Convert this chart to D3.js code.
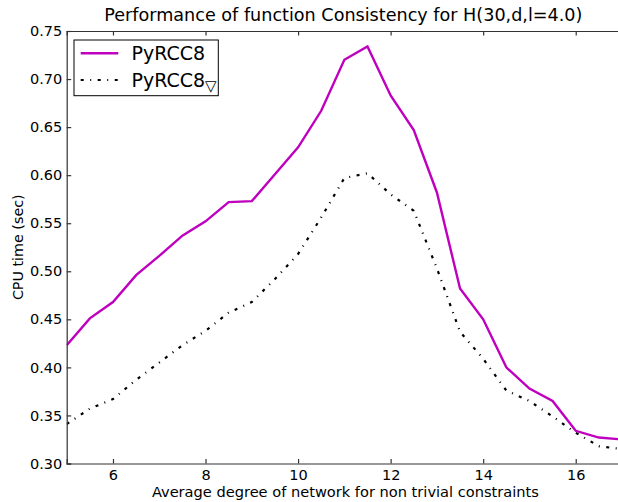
<!DOCTYPE html>
<html><head><meta charset="utf-8">
<script src="https://cdn.jsdelivr.net/npm/d3@7"></script>
<style>body{margin:0;background:#fff}svg{display:block}text{font-family:"DejaVu Sans",sans-serif;fill:#000}</style>
</head><body>
<svg id="c" width="618" height="502"></svg>
<script>
const degrees = [5,5.5,6,6.5,7,7.5,8,8.5,9,9.5,10,10.5,11,11.5,12,12.5,13,13.5,14,14.5,15,15.5,16,16.5,17];
const pyrcc8 = [0.423,0.451,0.468,0.496,0.516,0.537,0.552,0.572,0.573,0.601,0.629,0.667,0.720,0.734,0.683,0.647,0.582,0.482,0.450,0.400,0.378,0.365,0.334,0.327,0.325];
const pyrcc8Tri = [0.341,0.357,0.367,0.387,0.405,0.423,0.438,0.457,0.468,0.492,0.518,0.556,0.597,0.602,0.580,0.563,0.503,0.437,0.409,0.376,0.365,0.349,0.332,0.318,0.315];
const xTicks = [6,8,10,12,14,16];
const yTicks = [0.30,0.35,0.40,0.45,0.50,0.55,0.60,0.65,0.70,0.75];
const titleText = "Performance of function Consistency for H(30,d,l=4.0)";
const xLabel = "Average degree of network for non trivial constraints";
const yLabel = "CPU time (sec)";

const L=66.7, R=622, T=31, B=463.5;
const svg=d3.select("#c");
const x=d3.scaleLinear().domain([5,17]).range([L,R]);
const y=d3.scaleLinear().domain([0.30,0.75]).range([B,T]);

svg.append("defs").append("clipPath").attr("id","pc").append("rect")
 .attr("x",L).attr("y",T).attr("width",R-L).attr("height",B-T);

const line=d3.line().x((d,i)=>x(degrees[i])).y(d=>y(d));
const g=svg.append("g").attr("clip-path","url(#pc)");
g.append("path").datum(pyrcc8).attr("d",line).attr("fill","none")
 .attr("stroke","#bf00bf").attr("stroke-width",2.4).attr("stroke-linejoin","miter");
g.append("path").datum(pyrcc8Tri).attr("d",line).attr("fill","none")
 .attr("stroke","#000").attr("stroke-width",2.2).attr("stroke-dasharray","3,6.5,1,6.5");

// axes
const axCol="#333", axW=1.2, tl=4.5;
const xb=svg.append("g").attr("transform",`translate(0,${B})`)
 .call(d3.axisBottom(x).tickValues(xTicks).tickSize(-tl).tickPadding(6.5).tickFormat(d3.format("d")));
const xt=svg.append("g").attr("transform",`translate(0,${T})`)
 .call(d3.axisTop(x).tickValues(xTicks).tickSize(-tl).tickFormat(""));
const yl=svg.append("g").attr("transform",`translate(${L},0)`)
 .call(d3.axisLeft(y).tickValues(yTicks).tickSize(-tl).tickPadding(4.5).tickFormat(d3.format(".2f")));
[xb,xt,yl].forEach(a=>{
  a.select(".domain").attr("stroke",axCol).attr("stroke-width",axW);
  a.selectAll(".tick line").attr("stroke",axCol).attr("stroke-width",axW);
  a.selectAll(".tick text").attr("font-size",14.5).attr("font-family","DejaVu Sans").attr("fill","#000");
});
xb.selectAll(".tick text").attr("dy","0.71em");

// title and labels
svg.append("text").attr("x",(L+R)/2 - 1).attr("y",21).attr("text-anchor","middle")
 .attr("font-size",17.6).text(titleText);
svg.append("text").attr("x",(L+R)/2 + 1).attr("y",497).attr("text-anchor","middle")
 .attr("font-size",14.6).text(xLabel);
svg.append("text").attr("transform",`translate(23,${(T+B)/2}) rotate(-90)`).attr("text-anchor","middle")
 .attr("font-size",14.3).text(yLabel);

// legend
const lg=svg.append("g");
lg.append("rect").attr("x",74).attr("y",40).attr("width",144.3).attr("height",55.7)
 .attr("fill","#fff").attr("stroke","#000").attr("stroke-width",1);
lg.append("line").attr("x1",80.7).attr("x2",118.3).attr("y1",53.3).attr("y2",53.3)
 .attr("stroke","#bf00bf").attr("stroke-width",2.4);
lg.append("line").attr("x1",80.7).attr("x2",118.3).attr("y1",80).attr("y2",80)
 .attr("stroke","#000").attr("stroke-width",2.2).attr("stroke-dasharray","3,6.5,1,6.5");
lg.append("text").attr("x",131.5).attr("y",60.3).attr("font-size",19).text("PyRCC8");
const t2=lg.append("text").attr("x",131.5).attr("y",87).attr("font-size",19);
t2.append("tspan").text("PyRCC8");
t2.append("tspan").attr("font-size",15).attr("dy",4).text("▽");
</script>
</body></html>
